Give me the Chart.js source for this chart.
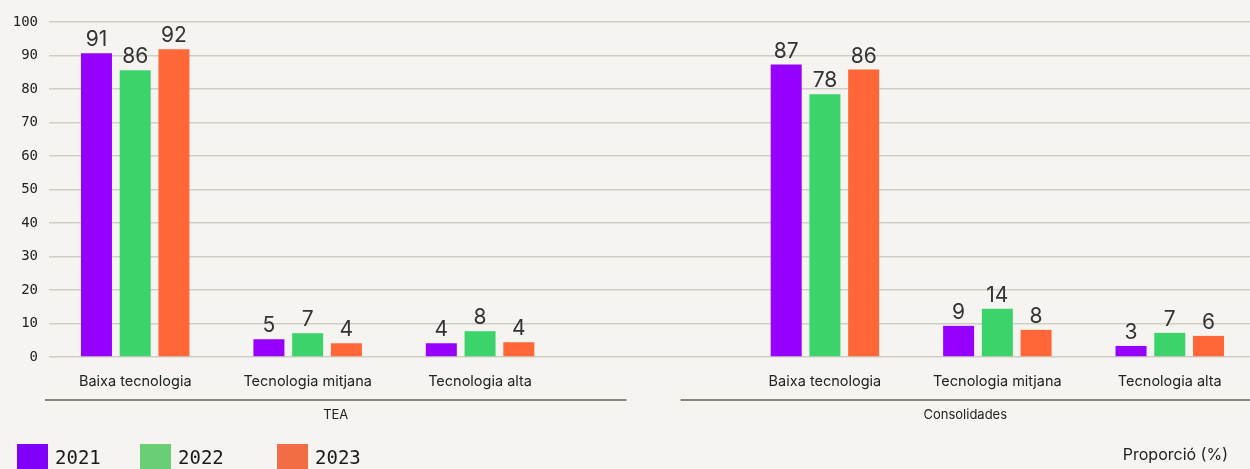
<!DOCTYPE html>
<html>
<head>
<meta charset="utf-8">
<script src="https://cdn.jsdelivr.net/npm/chart.js@4.4.1/dist/chart.umd.min.js"></script>
<style>
  html,body{margin:0;padding:0;background:#f5f4f0;overflow:hidden;width:1250px;height:469px;}
  #wrap{position:relative;width:1256px;height:469px;}
</style>
</head>
<body>
<div id="wrap"><canvas id="c" width="1256" height="469"></canvas></div>
<script>
// ---- data ----
const categories = ["Baixa tecnologia", "Tecnologia mitjana", "Tecnologia alta", "", "Baixa tecnologia", "Tecnologia mitjana", "Tecnologia alta"];
const groupLabels = ["TEA", "Consolidades"];
const seriesNames = ["2021", "2022", "2023"];
const values2021 = [90.7, 5.3, 4.1, null, 87.3, 9.3, 3.3];
const values2022 = [85.6, 7.1, 7.7, null, 78.4, 14.4, 7.2];
const values2023 = [91.9, 4.1, 4.4, null, 85.8, 8.1, 6.3];
const yTicks = [0, 10, 20, 30, 40, 50, 60, 70, 80, 90, 100];
const axisTitle = "Proporció (%)";

const barColors = ["#9500ff", "#3cd36b", "#ff6638"];
const legendColors = ["#8000fa", "#6acf74", "#f26d46"];

const monoFont = "'DejaVu Sans Mono', monospace";
const sansFont = "Inter, 'Noto Sans', sans-serif";

const extras = {
  id: 'extras',
  afterDatasetsDraw(chart) {
    const ctx = chart.ctx;
    ctx.save();
    ctx.fillStyle = '#333333';
    ctx.font = "21px " + sansFont;
    ctx.textAlign = 'center';
    ctx.textBaseline = 'alphabetic';
    chart.data.datasets.forEach((ds, di) => {
      const meta = chart.getDatasetMeta(di);
      meta.data.forEach((bar, i) => {
        const v = ds.data[i];
        if (v == null) return;
        ctx.fillText(String(Math.round(v)), bar.x, bar.y - 7);
      });
    });
    ctx.restore();
  },
  afterDraw(chart) {
    const ctx = chart.ctx;
    const x = chart.scales.x;
    const area = chart.chartArea;
    const split = x.getPixelForValue(3);
    const lineY = 400;
    const segs = [[area.left - 4, split - 26], [split + 28, 1250]];
    ctx.save();
    ctx.strokeStyle = '#858580';
    ctx.lineWidth = 2;
    segs.forEach(s => {
      ctx.beginPath(); ctx.moveTo(s[0], lineY); ctx.lineTo(s[1], lineY); ctx.stroke();
    });
    ctx.fillStyle = '#222222';
    ctx.font = "13px " + sansFont;
    ctx.textAlign = 'center';
    ctx.textBaseline = 'middle';
    segs.forEach((s, i) => ctx.fillText(groupLabels[i], (s[0] + s[1]) / 2, 415));
    // legend
    const lx = [17, 140, 277];
    ctx.textAlign = 'left';
    ctx.textBaseline = 'alphabetic';
    ctx.font = "19px " + monoFont;
    seriesNames.forEach((n, i) => {
      ctx.fillStyle = legendColors[i];
      ctx.fillRect(lx[i], 444, 31, 26);
      ctx.fillStyle = '#1a1a1a';
      ctx.fillText(n, lx[i] + 38, 464);
    });
    ctx.font = "16px " + sansFont;
    ctx.textAlign = 'right';
    ctx.textBaseline = 'middle';
    ctx.fillStyle = '#222222';
    ctx.fillText(axisTitle, 1228, 455);
    ctx.restore();
  }
};

new Chart(document.getElementById('c'), {
  type: 'bar',
  data: {
    labels: categories,
    datasets: [values2021, values2022, values2023].map((d, i) => ({
      label: seriesNames[i],
      data: d,
      backgroundColor: barColors[i],
      borderWidth: 0,
      categoryPercentage: 0.674,
      barPercentage: 0.8
    }))
  },
  options: {
    responsive: false,
    animation: false,
    devicePixelRatio: 1,
    layout: { padding: { top: 22, left: 0, right: 0, bottom: 0 } },
    plugins: { legend: { display: false }, tooltip: { enabled: false } },
    scales: {
      x: {
        grid: { display: false },
        border: { display: false },
        ticks: { color: '#222222', font: { family: sansFont, size: 14.5 }, padding: 8, maxRotation: 0, autoSkip: false },
        afterFit(s) { s.height = 112; }
      },
      y: {
        min: 0, max: 100,
        afterBuildTicks(s) { s.ticks = yTicks.map(v => ({ value: v })); },
        grid: { color: '#cfcdc6', lineWidth: 1.5, drawTicks: false },
        border: { display: false },
        ticks: { color: '#222222', font: { family: monoFont, size: 14 }, padding: 11 },
        afterFit(s) { s.width = 49; }
      }
    }
  },
  plugins: [extras]
});
</script>
</body>
</html>
